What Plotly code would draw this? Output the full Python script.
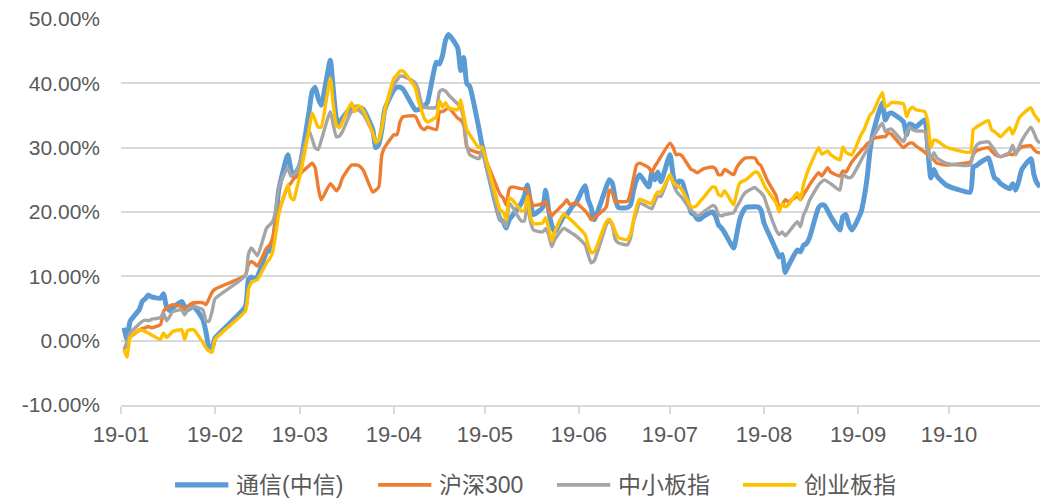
import plotly.graph_objects as go

# Trading days, Jan–Oct 2019 (sampled), cumulative returns in %
dates = (
    ["2019-01-02", "2019-01-03", "2019-01-04", "2019-01-07", "2019-01-08", "2019-01-09",
     "2019-01-10", "2019-01-11", "2019-01-14", "2019-01-15", "2019-01-16", "2019-01-17",
     "2019-01-18", "2019-01-21", "2019-01-22", "2019-01-23", "2019-01-24", "2019-01-25",
     "2019-01-28", "2019-01-29", "2019-01-30", "2019-01-31"]
    + ["2019-02-01", "2019-02-11", "2019-02-12", "2019-02-13", "2019-02-14", "2019-02-15",
       "2019-02-18", "2019-02-19", "2019-02-20", "2019-02-21", "2019-02-22", "2019-02-25",
       "2019-02-26", "2019-02-27", "2019-02-28"]
    + ["2019-03-01", "2019-03-04", "2019-03-05", "2019-03-06", "2019-03-07", "2019-03-08",
       "2019-03-11", "2019-03-12", "2019-03-13", "2019-03-14", "2019-03-15", "2019-03-18",
       "2019-03-19", "2019-03-20", "2019-03-21", "2019-03-22", "2019-03-25", "2019-03-26",
       "2019-03-27", "2019-03-28", "2019-03-29"]
    + ["2019-04-01", "2019-04-02", "2019-04-03", "2019-04-04", "2019-04-08", "2019-04-09",
       "2019-04-10", "2019-04-11", "2019-04-12", "2019-04-15", "2019-04-16", "2019-04-17",
       "2019-04-18", "2019-04-19", "2019-04-22", "2019-04-23", "2019-04-24", "2019-04-25",
       "2019-04-26", "2019-04-29", "2019-04-30"]
    + ["2019-05-06", "2019-05-07", "2019-05-08", "2019-05-09", "2019-05-10", "2019-05-13",
       "2019-05-14", "2019-05-15", "2019-05-16", "2019-05-17", "2019-05-20", "2019-05-21",
       "2019-05-22", "2019-05-23", "2019-05-24", "2019-05-27", "2019-05-28", "2019-05-29",
       "2019-05-30", "2019-05-31"]
    + ["2019-06-03", "2019-06-04", "2019-06-05", "2019-06-06", "2019-06-10", "2019-06-11",
       "2019-06-12", "2019-06-13", "2019-06-14", "2019-06-17", "2019-06-18", "2019-06-19",
       "2019-06-20", "2019-06-21", "2019-06-24", "2019-06-25", "2019-06-26", "2019-06-27",
       "2019-06-28"]
    + ["2019-07-01", "2019-07-02", "2019-07-03", "2019-07-04", "2019-07-05", "2019-07-08",
       "2019-07-09", "2019-07-10", "2019-07-11", "2019-07-12", "2019-07-15", "2019-07-16",
       "2019-07-17", "2019-07-18", "2019-07-19", "2019-07-22", "2019-07-23", "2019-07-24",
       "2019-07-25", "2019-07-26", "2019-07-29", "2019-07-30", "2019-07-31"]
    + ["2019-08-01", "2019-08-02", "2019-08-05", "2019-08-06", "2019-08-07", "2019-08-08",
       "2019-08-09", "2019-08-12", "2019-08-13", "2019-08-14", "2019-08-15", "2019-08-16",
       "2019-08-19", "2019-08-20", "2019-08-21", "2019-08-22", "2019-08-23", "2019-08-26",
       "2019-08-27", "2019-08-28", "2019-08-29", "2019-08-30"]
    + ["2019-09-02", "2019-09-03", "2019-09-04", "2019-09-05", "2019-09-06", "2019-09-09",
       "2019-09-10", "2019-09-11", "2019-09-12", "2019-09-16", "2019-09-17", "2019-09-18",
       "2019-09-19", "2019-09-20", "2019-09-23", "2019-09-24", "2019-09-25", "2019-09-26",
       "2019-09-27", "2019-09-30"]
    + ["2019-10-08", "2019-10-09", "2019-10-10", "2019-10-11", "2019-10-14", "2019-10-15",
       "2019-10-16", "2019-10-17", "2019-10-18", "2019-10-21", "2019-10-22", "2019-10-23",
       "2019-10-24", "2019-10-25", "2019-10-28", "2019-10-29", "2019-10-30", "2019-10-31"]
)

telecom = (
    [2.0, 0.2, 3.0, 4.8, 6.1, 6.5, 7.1, 6.8, 6.6, 7.3, 5.3, 4.7, 5.1, 6.1, 5.3, 4.8, 5.1, 5.3,
     3.3, 1.4, -1.0, -1.2]
    + [0.4, 5.3, 9.5, 9.9, 9.6, 10.0, 13.7, 14.0, 14.9, 18.5, 23.4, 28.9, 26.6, 25.5, 26.4]
    + [27.3, 35.6, 38.7, 39.4, 37.7, 36.6, 43.6, 39.0, 34.6, 33.7, 34.6, 36.3, 36.3, 36.3,
       36.2, 35.9, 32.8, 30.0, 30.5, 32.8, 36.0]
    + [39.0, 39.4, 39.4, 39.1, 35.9, 35.9, 36.2, 36.5, 37.0, 43.3, 43.0, 44.3, 46.7, 47.6,
       45.5, 42.0, 44.0, 40.0, 39.5, 33.0, 30.5]
    + [18.9, 18.5, 17.5, 18.8, 19.4, 21.4, 22.5, 24.2, 21.4, 19.6, 20.7, 23.4, 20.3, 18.0,
       16.9, 19.3, 19.6, 20.3, 21.0, 21.4]
    + [24.1, 21.9, 20.7, 18.8, 23.9, 25.0, 24.5, 21.9, 20.7, 20.7, 21.1, 23.4, 25.0, 25.8,
       23.9, 26.1, 25.0, 26.2, 24.7]
    + [28.9, 25.8, 23.9, 24.8, 24.7, 19.9, 19.6, 18.9, 18.9, 19.3, 20.0, 19.4, 18.0, 17.5,
       16.8, 14.4, 16.5, 18.8, 20.0, 20.7, 20.8, 20.8, 20.3]
    + [18.3, 17.2, 14.1, 13.0, 13.4, 10.6, 11.6, 14.1, 13.8, 14.8, 15.1, 16.0, 20.7, 21.1,
       21.0, 20.2, 19.3, 17.2, 19.3, 19.6, 18.0, 17.2]
    + [20.0, 22.2, 25.3, 29.7, 32.3, 37.0, 34.3, 35.2, 35.4, 34.0, 32.0, 33.7, 33.5, 33.2,
       34.3, 30.0, 25.3, 26.6, 25.6, 24.2]
    + [23.1, 27.0, 27.2, 27.6, 28.4, 26.9, 25.3, 25.0, 24.4, 23.6, 24.4, 23.4, 24.8, 26.6,
       28.3, 25.8, 24.5, 23.9]
)

hs300 = (
    [-1.4, -0.6, 0.5, 1.6, 1.9, 2.0, 2.2, 2.0, 2.5, 4.5, 5.1, 5.4, 5.6, 5.3, 4.8, 5.3, 5.7,
     5.9, 5.9, 5.6, 6.5, 7.5]
    + [8.0, 10.2, 11.8, 12.3, 12.0, 11.6, 14.4, 14.9, 16.0, 18.3, 20.0, 23.9, 24.5, 25.2, 25.5]
    + [25.9, 27.2, 27.6, 26.9, 23.9, 21.9, 24.4, 23.9, 23.3, 23.9, 25.3, 27.3, 27.3, 27.3,
       27.0, 26.4, 23.1, 23.4, 23.9, 28.9, 30.1]
    + [32.0, 32.0, 34.0, 34.8, 34.9, 34.0, 33.1, 32.8, 33.2, 32.8, 35.6, 35.6, 35.9, 36.2,
       34.6, 34.3, 33.5, 30.1, 29.7, 29.2, 29.3]
    + [22.7, 22.2, 21.1, 23.6, 23.9, 23.6, 23.6, 23.3, 22.0, 21.0, 21.3, 21.6, 20.2, 19.4,
       19.9, 21.3, 21.9, 21.1, 21.3, 21.4]
    + [20.2, 19.6, 18.8, 19.1, 20.8, 23.4, 23.0, 21.6, 21.6, 21.7, 23.0, 25.3, 27.3, 27.6,
       26.9, 26.2, 27.1, 27.8, 28.6]
    + [30.7, 30.1, 28.9, 29.0, 28.7, 26.6, 26.4, 26.1, 26.4, 26.7, 27.0, 26.7, 25.8, 25.8,
       26.6, 25.8, 26.9, 27.6, 28.1, 28.4, 28.4, 27.6, 27.2]
    + [26.1, 25.0, 22.5, 20.7, 21.1, 21.9, 21.6, 22.4, 21.9, 22.7, 23.4, 24.2, 26.1, 25.6,
       26.2, 26.9, 26.2, 25.6, 26.4, 26.2, 27.0, 27.8]
    + [29.5, 30.0, 30.6, 30.9, 31.4, 31.7, 31.7, 32.3, 32.1, 30.0, 30.4, 30.7, 30.7, 30.3,
       29.3, 28.9, 28.6, 28.1, 27.6, 27.3]
    + [27.8, 28.9, 29.5, 29.7, 30.0, 29.5, 29.0, 28.7, 28.6, 29.0, 28.9, 29.3, 29.7, 30.1,
       30.3, 29.7, 29.3, 29.2]
)

sme = (
    [-1.4, -0.2, 1.2, 2.6, 3.0, 3.2, 3.1, 3.3, 3.6, 4.3, 3.1, 3.7, 4.5, 4.8, 4.0, 4.8, 5.1,
     5.3, 4.8, 3.1, 3.0, 4.5]
    + [6.5, 10.1, 13.4, 14.4, 13.8, 13.2, 17.5, 18.0, 18.5, 20.3, 23.8, 26.9, 25.6, 25.8, 26.4]
    + [27.8, 32.6, 31.4, 30.0, 29.7, 31.1, 35.6, 33.5, 31.7, 31.8, 32.5, 35.6, 35.7, 35.9,
       35.6, 35.1, 32.3, 30.6, 31.2, 33.2, 35.4]
    + [39.8, 40.5, 41.1, 41.1, 40.1, 39.0, 37.0, 36.3, 36.2, 36.3, 38.7, 39.0, 38.8, 38.2,
       36.8, 36.2, 34.3, 30.4, 28.9, 28.3, 29.3]
    + [18.9, 18.5, 17.7, 21.4, 20.8, 18.6, 18.6, 21.4, 18.5, 17.2, 16.9, 17.4, 16.5, 14.6,
       15.7, 17.5, 17.2, 16.9, 16.6, 16.3]
    + [14.9, 13.4, 12.1, 12.4, 18.0, 18.8, 17.9, 15.7, 15.2, 14.9, 16.0, 18.5, 20.0, 21.4,
       20.7, 20.5, 21.6, 22.5, 22.4]
    + [25.8, 24.5, 23.3, 22.7, 22.2, 20.2, 19.9, 19.4, 19.6, 20.0, 21.0, 20.8, 19.6, 19.4,
       19.6, 19.9, 20.8, 21.6, 22.5, 23.1, 23.8, 23.4, 23.0]
    + [22.4, 21.0, 17.2, 16.5, 16.9, 16.3, 16.8, 18.5, 17.7, 19.5, 20.5, 21.8, 24.2, 24.7,
       25.0, 24.7, 24.4, 23.4, 25.8, 25.5, 25.3, 25.5]
    + [28.0, 28.9, 29.7, 30.7, 31.7, 33.8, 32.5, 32.8, 32.9, 30.9, 32.3, 33.2, 32.8, 32.6,
       32.5, 29.7, 28.1, 29.2, 28.4, 27.6]
    + [27.3, 29.3, 30.3, 30.7, 30.9, 30.3, 29.7, 28.9, 28.6, 29.3, 30.4, 28.9, 30.0, 31.1,
       33.2, 32.3, 31.2, 30.7]
)

chinext = (
    [-1.4, -2.6, 0.5, 1.7, 1.6, 1.4, 1.2, 0.9, 0.2, 1.2, 0.5, 0.9, 1.4, 1.7, 0.2, 1.6, 1.7,
     1.7, -0.3, -1.1, -1.6, -1.8]
    + [0.2, 4.6, 7.9, 9.0, 9.3, 9.5, 12.1, 12.7, 13.8, 16.5, 19.6, 24.2, 22.2, 21.9, 23.8]
    + [25.6, 32.8, 35.4, 34.3, 33.2, 33.2, 40.8, 36.6, 33.5, 33.1, 34.0, 37.0, 35.6, 36.5,
       36.3, 35.7, 32.3, 30.9, 31.2, 33.1, 35.9]
    + [40.8, 41.3, 41.9, 41.9, 39.3, 37.4, 35.9, 34.6, 34.0, 34.8, 37.3, 36.3, 37.0, 36.2,
       35.9, 37.4, 35.1, 32.8, 32.0, 30.0, 30.1]
    + [20.3, 20.0, 18.8, 22.2, 21.9, 20.2, 20.2, 22.4, 19.3, 18.2, 18.3, 19.1, 17.5, 15.5,
       16.9, 19.7, 19.3, 18.9, 18.5, 18.0]
    + [16.5, 14.9, 13.7, 13.8, 18.5, 18.9, 18.2, 16.9, 16.0, 15.7, 16.6, 18.8, 20.8, 22.0,
       21.4, 21.3, 22.4, 23.1, 23.1]
    + [25.8, 24.7, 24.2, 23.9, 23.4, 20.8, 20.8, 21.1, 21.7, 22.2, 23.9, 23.8, 22.7, 22.5,
       23.3, 21.1, 23.0, 24.5, 24.8, 25.0, 26.2, 26.1, 25.3]
    + [24.2, 23.4, 21.4, 20.0, 21.3, 20.8, 21.1, 23.0, 21.9, 24.2, 25.8, 27.0, 30.0, 29.0,
       29.2, 29.5, 28.9, 28.1, 30.1, 29.3, 29.0, 28.9]
    + [32.0, 32.8, 34.0, 35.1, 35.6, 38.6, 36.3, 36.6, 37.0, 36.8, 34.8, 35.9, 36.3, 35.9,
       35.6, 34.0, 30.0, 31.2, 31.1, 30.1]
    + [29.3, 32.8, 33.2, 33.5, 34.2, 32.8, 32.5, 32.1, 31.7, 33.1, 32.1, 33.2, 34.5, 35.1,
       36.2, 35.2, 34.6, 34.0]
)

# y-axis ticks, labelled with a plain hyphen for negatives
y_ticks = [-10, 0, 10, 20, 30, 40, 50]
y_labels = ["-10.00%", "0.00%", "10.00%", "20.00%", "30.00%", "40.00%", "50.00%"]

series = [
    ("通信(中信)", telecom, "#5B9BD5", 5),
    ("沪深300", hs300, "#ED7D31", 3.4),
    ("中小板指", sme, "#A5A5A5", 3.4),
    ("创业板指", chinext, "#FFC000", 3.4),
]

grid = "#D9D9D9"
label_color = "#595959"

fig = go.Figure()
for name, values, color, width in series:
    fig.add_trace(go.Scatter(
        x=dates, y=values, mode="lines", name=name, showlegend=False,
        line=dict(color=color, width=width, shape="spline", smoothing=0.5),
        cliponaxis=False,
    ))

# Legend row below the axis: a line key followed by the series name
legend_y = -0.207
key_starts = [0.0588, 0.2797, 0.4744, 0.6768]   # paper x of each key's left end
key_len = 0.058
for (name, _, color, width), x0 in zip(series, key_starts):
    fig.add_shape(type="line", xref="paper", yref="paper",
                  x0=x0, x1=x0 + key_len, y0=legend_y, y1=legend_y,
                  line=dict(color=color, width=width + 0.3))
    fig.add_annotation(xref="paper", yref="paper", x=x0 + key_len + 0.006, y=legend_y,
                       text=name, showarrow=False, xanchor="left", yanchor="middle",
                       font=dict(family="Liberation Sans, Noto Sans CJK SC", size=23,
                                 color=label_color))

fig.update_layout(
    width=1044, height=498,
    margin=dict(l=121, r=4, t=19, b=93),
    paper_bgcolor="white", plot_bgcolor="white",
    showlegend=False,
    xaxis=dict(
        type="date", range=["2019-01-01", "2019-10-31"],
        tick0="2019-01-01", dtick="M1", tickformat="%y-%m",
        ticks="outside", ticklen=7, tickwidth=1.5, tickcolor=grid,
        ticklabelstandoff=2,
        showgrid=False, zeroline=False,
        showline=True, linecolor=grid, linewidth=1.5,
        tickfont=dict(family="Liberation Sans, Arial", size=22, color=label_color),
    ),
    yaxis=dict(
        range=[-10, 50], tickmode="array", tickvals=y_ticks, ticktext=y_labels,
        showgrid=True, gridcolor=grid, gridwidth=1.5,
        zeroline=False, showline=False, ticks="",
        ticklabelstandoff=20,
        tickfont=dict(family="Liberation Sans, Arial", size=21, color=label_color),
    ),
)

fig.write_html("out.html")
